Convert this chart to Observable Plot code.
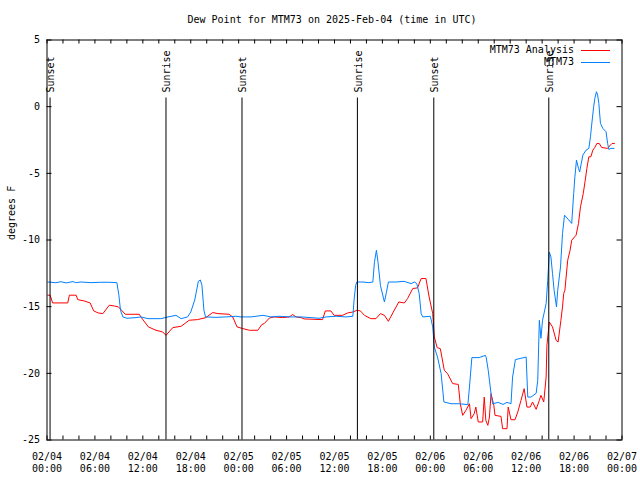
<!DOCTYPE html>
<html>
<head>
<meta charset="utf-8">
<script src="https://cdn.jsdelivr.net/npm/d3@7"></script>
<script src="https://cdn.jsdelivr.net/npm/@observablehq/plot@0.6"></script>
<style>
  body { margin: 0; background: #fff; }
  #wrap { position: relative; width: 640px; height: 480px; font-family: "DejaVu Sans Mono", monospace; font-size: 10px; color: #000; }
  #title { position: absolute; top: 14px; left: 0; width: 664px; text-align: center; line-height: 12px; white-space: pre; }
  .legtxt { position: absolute; right: 66px; line-height: 12px; white-space: pre; }
  #legsw { position: absolute; left: 0; top: 0; }
  #chart { position: absolute; left: 0; top: 0; }
</style>
</head>
<body>
<div id="wrap">
  <div id="chart"></div>
  <div id="title"></div>
  <div id="legend"></div>
</div>
<script>
// ---- data ----
const titleText = "Dew Point for MTM73 on 2025-Feb-04 (time in UTC)";
const yLabel = "degrees F";
const seriesNames = ["MTM73 Analysis", "MTM73"];
const seriesColors = ["#ff0000", "#0080ff"];

// hours since 2025-02-04 00:00 UTC
const obsHours = [0.1,1.1,1.75,2.4,3.25,3.6,4.25,5.5,6.75,7.75,
  8.75,9.0,9.2,9.5,10.0,11.15,11.75,12.65,14.25,15.15,
  16.15,16.8,17.6,18.0,18.5,18.95,19.2,19.4,19.65,19.85,
  21.15,22.4,23.65,24.3,25.55,27.05,28.05,29.05,30.55,31.8,
  33.05,34.05,34.95,36.2,37.45,38.3,38.45,38.65,38.8,39.55,
  40.3,40.8,41.0,41.25,41.45,41.75,42.25,42.5,42.75,43.7,
  44.7,45.6,46.0,46.3,46.6,46.85,47.05,48.0,48.3,48.5,
  48.9,49.35,49.7,50.6,51.6,52.7,52.9,53.2,54.1,54.9,
  55.0,55.25,55.6,55.8,56.5,57.1,57.6,58.1,58.3,58.65,
  59.35,60.0,60.2,60.6,61.25,61.45,61.65,61.85,62.05,62.5,
  62.7,62.9,63.1,63.3,63.5,63.8,63.95,64.3,64.55,64.8,
  65.25,65.7,65.95,66.1,66.3,66.55,66.7,67.1,67.5,67.85,
  68.05,68.2,68.45,68.6,68.8,68.95,69.1,69.3,69.6,70.0,
  70.2,70.35,70.6,71.0];
const obsDewF = [-13.15,-13.2,-13.13,-13.22,-13.12,-13.2,-13.15,-13.2,-13.17,-13.17,
  -13.2,-14.14,-15.27,-15.77,-15.87,-15.82,-15.77,-15.9,-15.9,-15.77,
  -15.65,-15.9,-15.77,-15.4,-14.5,-13.1,-13.0,-13.4,-15.27,-15.77,
  -15.8,-15.77,-15.72,-15.77,-15.77,-15.65,-15.77,-15.72,-15.77,-15.77,
  -15.82,-15.87,-15.77,-15.72,-15.77,-15.72,-14.5,-13.4,-13.15,-13.15,
  -13.2,-13.15,-11.67,-10.77,-11.67,-13.4,-14.65,-13.92,-13.15,-13.15,
  -13.1,-13.27,-13.15,-13.27,-14.0,-15.52,-15.77,-15.72,-16.52,-18.03,
  -18.78,-20.02,-22.15,-22.28,-22.28,-22.35,-21.03,-18.82,-18.82,-18.65,
  -18.82,-19.77,-21.52,-22.28,-22.18,-22.33,-22.18,-22.28,-20.28,-18.97,
  -18.87,-18.78,-21.78,-21.78,-21.5,-20.53,-16.02,-17.37,-16.02,-14.77,
  -13.02,-10.9,-11.27,-12.52,-13.77,-15.02,-13.77,-12.02,-9.51,-8.14,
  -8.44,-8.76,-6.51,-5.26,-4.01,-4.63,-4.89,-3.63,-3.26,-3.13,
  -2.26,-1.38,-0.01,0.62,1.12,0.87,0.25,-1.25,-1.63,-1.88,
  -2.76,-3.21,-3.13,-3.13];

const anaHours = [0.1,0.4,0.7,2.6,2.8,3.65,3.85,4.65,5.4,5.85,
  6.4,7.0,7.8,8.45,8.95,9.8,11.55,11.75,12.7,13.65,
  14.5,14.9,15.75,16.8,17.8,18.85,19.9,20.75,21.4,22.8,
  23.25,23.8,24.5,25.35,26.4,26.9,27.2,27.85,28.45,29.5,
  30.35,30.75,31.2,31.8,32.2,34.5,34.85,35.55,35.95,37.0,
  37.65,38.3,38.8,39.25,39.75,40.55,41.2,41.75,42.25,42.75,
  43.3,44.05,44.75,45.15,45.8,46.4,46.85,47.45,47.85,48.3,
  48.5,48.85,49.25,49.75,50.15,50.8,51.5,51.75,52.05,52.45,
  52.9,53.1,53.5,53.7,54.0,54.55,54.75,54.95,55.2,55.4,
  55.6,55.95,56.1,56.85,57.05,57.6,57.75,58.1,58.6,58.95,
  59.35,59.75,60.1,60.5,60.8,61.25,61.65,61.85,62.2,62.5,
  62.6,62.9,63.3,63.75,64.0,64.35,64.55,64.7,64.85,65.2,
  65.5,65.7,66.25,66.55,66.8,67.15,67.4,67.6,67.85,68.1,
  68.35,68.6,68.85,69.15,69.45,70.2,70.55,70.75,71.05];
const anaDewF = [-14.14,-14.14,-14.72,-14.72,-14.14,-14.14,-14.47,-14.57,-14.72,-15.32,
  -15.47,-15.52,-14.89,-14.95,-15.02,-15.57,-15.57,-15.77,-16.52,-16.77,
  -16.9,-17.15,-16.57,-16.47,-16.02,-15.97,-15.82,-15.44,-15.52,-15.57,
  -15.77,-16.52,-16.64,-16.77,-16.77,-16.34,-16.27,-15.85,-15.77,-15.82,
  -15.77,-15.59,-15.77,-15.82,-15.92,-15.97,-15.32,-15.32,-15.65,-15.65,
  -15.47,-15.4,-15.27,-15.32,-15.65,-15.9,-15.9,-15.52,-15.65,-16.1,
  -15.47,-14.65,-14.72,-14.39,-13.64,-13.59,-12.89,-12.89,-14.27,-15.52,
  -17.27,-18.07,-18.15,-19.77,-20.02,-20.77,-20.83,-22.28,-23.15,-22.78,
  -22.28,-23.4,-23.02,-22.53,-23.65,-23.65,-21.78,-23.53,-23.9,-23.28,
  -21.52,-22.4,-23.15,-23.23,-24.15,-24.15,-22.53,-23.48,-23.48,-22.9,
  -22.03,-21.15,-22.53,-22.53,-22.15,-22.7,-22.03,-21.65,-22.15,-20.28,
  -17.9,-16.15,-16.52,-17.52,-17.65,-16.02,-15.02,-14.02,-13.77,-11.52,
  -10.77,-10.02,-9.64,-8.76,-7.51,-6.51,-5.51,-4.63,-3.76,-3.76,
  -3.26,-3.06,-2.76,-2.76,-3.06,-3.13,-2.88,-2.76,-2.76];

const sunTimes = ["2025-02-04T00:23Z","2025-02-04T14:54Z","2025-02-05T00:25Z","2025-02-05T14:52Z","2025-02-06T00:26Z","2025-02-06T14:50Z"];
const sunLabels = ["Sunset","Sunrise","Sunset","Sunrise","Sunset","Sunrise"];

const yTicks = [-25,-20,-15,-10,-5,0,5];

// ---- build ----
const start = new Date(Date.UTC(2025,1,4));
const end = new Date(Date.UTC(2025,1,7));
const toDate = h => new Date(start.getTime() + h * 3600e3);
const obs = obsHours.map((h,i) => ({t: toDate(h), v: obsDewF[i]}));
const ana = anaHours.map((h,i) => ({t: toDate(h), v: anaDewF[i]}));
const sun = sunTimes.map((s,i) => ({t: new Date(s), label: sunLabels[i]}));
const minorTicks = d3.utcHour.every(2).range(start, new Date(end.getTime() + 1));
const labelTicks = d3.utcHour.every(6).range(start, new Date(end.getTime() + 1));
const fmt = d3.utcFormat("%m/%d\n%H:%M");

const chart = Plot.plot({
  width: 640, height: 480,
  marginLeft: 46.5, marginRight: 18.5, marginTop: 39.5, marginBottom: 40.5,
  style: {fontFamily: "DejaVu Sans Mono", fontSize: "10px", background: "white", color: "black", overflow: "visible"},
  x: {type: "utc", domain: [start, end], label: null},
  y: {domain: [-25, 5], label: null},
  marks: [
    Plot.line(ana, {x: "t", y: "v", stroke: seriesColors[0], strokeWidth: 1}),
    Plot.line(obs, {x: "t", y: "v", stroke: seriesColors[1], strokeWidth: 1}),
    Plot.ruleX(sun, {x: "t", insetTop: 58, stroke: "black"}),
    Plot.text(sun, {x: "t", text: "label", rotate: -90, frameAnchor: "top", dy: 52.5, dx: 1, textAnchor: "start", lineAnchor: "middle", fill: "black"}),
    Plot.ruleX(minorTicks, {x: d => d, insetTop: 396, stroke: "black"}),
    Plot.ruleX(minorTicks, {x: d => d, insetBottom: 396, stroke: "black"}),
    Plot.ruleY(yTicks, {y: d => d, insetRight: 570, stroke: "black"}),
    Plot.ruleY(yTicks, {y: d => d, insetLeft: 570, stroke: "black"}),
    Plot.frame({stroke: "black"}),
    Plot.axisX(labelTicks, {tickSize: 0, tickPadding: 12, tickFormat: fmt, lineHeight: 1.15, label: null, fill: "black"}),
    Plot.axisY(yTicks, {tickSize: 0, tickPadding: 7, tickFormat: d => String(d), label: null, fill: "black"}),
    Plot.text([yLabel], {text: d => d, frameAnchor: "left", dx: -35, rotate: -90, fill: "black"})
  ]
});
document.getElementById("chart").appendChild(chart);
document.getElementById("title").textContent = titleText;

// legend (top right inside plot)
const leg = document.getElementById("legend");
const legY = [44, 56];
seriesNames.forEach((name, i) => {
  const d = document.createElement("div");
  d.className = "legtxt";
  d.style.top = legY[i] + "px";
  d.textContent = name;
  leg.appendChild(d);
});
const ns = "http://www.w3.org/2000/svg";
const sw = document.createElementNS(ns, "svg");
sw.setAttribute("id", "legsw");
sw.setAttribute("width", 640);
sw.setAttribute("height", 80);
seriesNames.forEach((name, i) => {
  const l = document.createElementNS(ns, "line");
  l.setAttribute("x1", 581); l.setAttribute("x2", 610);
  l.setAttribute("y1", legY[i] + 6.5); l.setAttribute("y2", legY[i] + 6.5);
  l.setAttribute("stroke", seriesColors[i]);
  l.setAttribute("stroke-width", 1);
  sw.appendChild(l);
});
leg.appendChild(sw);
</script>
</body>
</html>
